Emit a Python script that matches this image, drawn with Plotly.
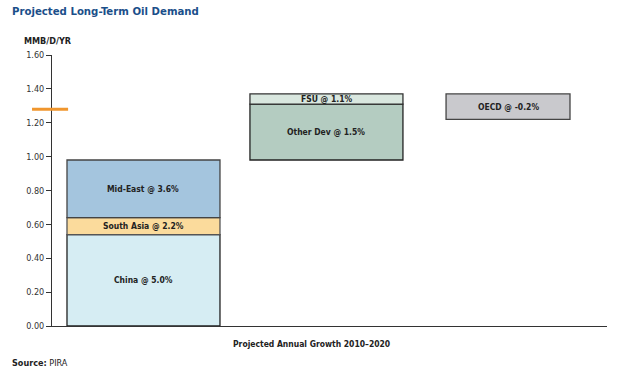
import plotly.graph_objects as go

# Data
groups = [0, 1, 2]
segment_labels = ["China @ 5.0%", "South Asia @ 2.2%", "Mid-East @ 3.6%",
                  "Other Dev @ 1.5%", "FSU @ 1.1%", "OECD @ -0.2%"]
segment_group = [0, 0, 0, 1, 1, 2]
segment_base = [0.00, 0.54, 0.64, 0.98, 1.31, 1.22]
segment_height = [0.54, 0.10, 0.34, 0.33, 0.06, 0.15]
segment_colors = ["#d6edf3", "#fbdb9c", "#a4c5de", "#b4ccc1", "#d9e7df", "#c9c9cd"]
segment_line = ["#222222", "#555555", "#444444", "#222222", "#333333", "#444444"]
total_marker = 1.28
y_ticks = [0, 0.2, 0.4, 0.6, 0.8, 1.0, 1.2, 1.4, 1.6]

# bar geometry (in group units)
group_offset = {0: -0.419, 1: -0.43, 2: -0.37}
group_width = {0: 0.827, 1: 0.827, 2: 0.67}

LABEL_FONT = "Liberation Sans Narrow, DejaVu Sans Condensed, Arial Narrow, sans-serif"

fig = go.Figure()
for lab, g, b, h, c, lc in zip(segment_labels, segment_group, segment_base,
                               segment_height, segment_colors, segment_line):
    fig.add_trace(go.Bar(
        x=[g], y=[h], base=[b], width=[group_width[g]], offset=group_offset[g],
        marker=dict(color=c, line=dict(color=lc, width=1.3)),
        hoverinfo="skip", showlegend=False,
    ))
    fig.add_annotation(
        x=g + group_offset[g] + group_width[g] / 2, y=b + h / 2,
        xref="x", yref="y", text="<b>" + lab + "</b>", showarrow=False,
        font=dict(family=LABEL_FONT, size=8.5, color="#222222"),
    )

fig.add_shape(type="line", xref="paper", yref="y",
              x0=-0.036, x1=0.029, y0=total_marker, y1=total_marker,
              line=dict(color="#f0962e", width=3))

fig.update_layout(
    width=620, height=375,
    margin=dict(l=52, r=13, t=55, b=49),
    paper_bgcolor="white", plot_bgcolor="white",
    barmode="overlay",
    xaxis=dict(range=[-0.5, 2.5], showticklabels=False, ticks="",
               showgrid=False, zeroline=False, showline=True,
               linecolor="#333333", linewidth=1, automargin=False),
    yaxis=dict(range=[0, 1.6], tickvals=y_ticks, tickformat=".2f",
               ticks="outside", ticklen=5, tickcolor="#333333",
               showgrid=False, zeroline=False, showline=True,
               linecolor="#333333", linewidth=1, automargin=False,
               tickfont=dict(family=LABEL_FONT, size=9, color="#333333")),
    font=dict(family=LABEL_FONT),
)

fig.add_annotation(xref="paper", yref="paper", x=-0.0755, y=1.0 + 43/270.7,
                   xanchor="left", yanchor="middle", showarrow=False,
                   text="<b>Projected Long-Term Oil Demand</b>",
                   font=dict(family=LABEL_FONT, size=11.3, color="#1b4f8a"))
fig.add_annotation(xref="paper", yref="paper", x=-0.054, y=1.0 + 14/270.7,
                   xanchor="left", yanchor="middle", showarrow=False,
                   text="<b>MMB/D/YR</b>",
                   font=dict(family=LABEL_FONT, size=9, color="#222222"))
fig.add_annotation(xref="paper", yref="paper", x=0.467, y=-18/270.7,
                   xanchor="center", yanchor="middle", showarrow=False,
                   text="<b>Projected Annual Growth 2010–2020</b>",
                   font=dict(family=LABEL_FONT, size=8.5, color="#222222"))
fig.add_annotation(xref="paper", yref="paper", x=-0.0755, y=-37/270.7,
                   xanchor="left", yanchor="middle", showarrow=False,
                   text="<b>Source:</b> PIRA",
                   font=dict(family=LABEL_FONT, size=9, color="#222222"))

fig.write_html("out.html", config={"displayModeBar": False},
               post_script="document.body.style.margin='0';")
